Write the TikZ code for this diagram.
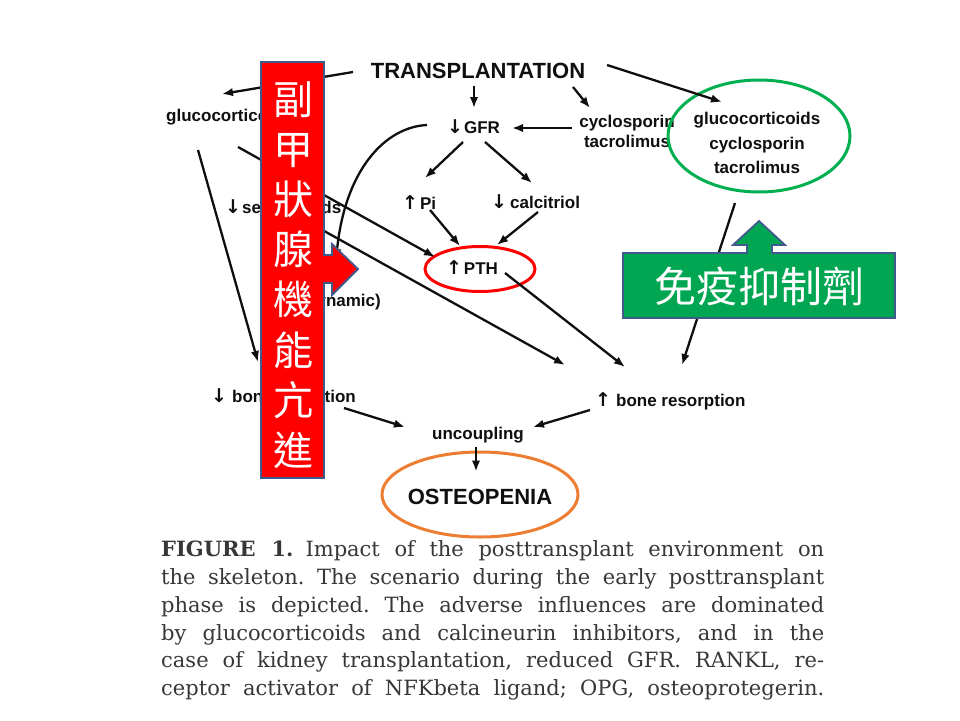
\documentclass[tikz,border=0pt]{standalone}
\usepackage{fontspec}
\setmainfont{Liberation Sans}
\newfontfamily\cjk{Noto Sans CJK TC}
\newfontfamily\capfont{DejaVu Serif}
\newfontfamily\arrfont{DejaVu Sans}
\newcommand\myDown{{\arrfont\bfseries\fontsize{19}{20}\selectfont ↓}}
\newcommand\myUp{{\arrfont\bfseries\fontsize{19}{20}\selectfont ↑}}
\usetikzlibrary{shapes.geometric,arrows.meta}
\definecolor{pptred}{RGB}{255,0,0}
\definecolor{pptgreen}{RGB}{0,176,80}
\definecolor{boxgreen}{RGB}{0,166,81}
\definecolor{pptorange}{RGB}{237,125,49}
\definecolor{pptblue}{RGB}{65,90,140}
\definecolor{capgray}{RGB}{55,55,55}
\definecolor{ink}{RGB}{15,15,15}
\begin{document}
\begin{tikzpicture}[x=1pt,y=-1pt,
 lbl/.style={font=\fontsize{17}{20}\selectfont\bfseries, text=ink, inner sep=0pt},
 arr/.style={-{Latex[length=11pt,width=8.5pt]}, line width=2.3pt, draw=ink},
 capline/.style={font=\capfont\fontsize{21}{24}\selectfont\frenchspacing, text=capgray, inner sep=0pt, anchor=base west},
 ring/.style={ellipse, line width=3pt, inner sep=0pt},
 cjkw/.style={text=white, inner sep=0pt, align=center},
 callout/.style={line width=1.8pt, draw=pptblue},
]
\fill[white] (0,0) rectangle (960,720);
\useasboundingbox (0,0) rectangle (960,720);

% labels
\node[lbl, font=\fontsize{22}{24}\selectfont\bfseries] (trans) at (478,71) {TRANSPLANTATION};
\node[lbl, anchor=west] (gluL) at (166,117) {glucocorticoids};
\node[lbl, anchor=west] (gfr) at (447,127) {\myDown\kern1pt GFR};
\node[lbl, align=center] (cyc) at (627,131) {cyclosporin\\tacrolimus};
\node[lbl, align=center, font=\fontsize{17}{24.5}\selectfont\bfseries] (immtxt) at (757,143) {glucocorticoids\\cyclosporin\\tacrolimus};
\node[lbl, anchor=west] (pi) at (402,203) {\myUp\kern2pt Pi};
\node[lbl, anchor=west] (calc) at (491,202) {\myDown\kern3pt calcitriol};
\node[lbl, anchor=west] (sex) at (225,207) {\myDown\kern1pt sex steroids};
\node[lbl] (pth) at (472,268) {\myUp\kern2pt PTH};
\node[lbl, anchor=east] (ady) at (381,302) {(adynamic)};
\node[lbl, anchor=west] (bf) at (211,396) {\myDown\kern5pt bone formation};
\node[lbl, anchor=west] (br) at (595,401) {\myUp\kern5pt bone resorption};
\node[lbl] (unc) at (478,435) {uncoupling};
\node[lbl, font=\fontsize{22}{24}\selectfont\bfseries] (ost) at (480,497) {OSTEOPENIA};

% ellipses (annotation rings)
\node[ring, draw=pptred, minimum width=110pt, minimum height=45pt] (pthE) at (480,269) {};
\node[ring, draw=pptgreen, minimum width=182pt, minimum height=112pt] (immE) at (759,136) {};
\node[ring, draw=pptorange, minimum width=196pt, minimum height=85pt] (ostE) at (480,494.5) {};

% connectors
\draw[arr] ([shift={(-125,1)}]trans.center) -- ([shift={(56,-23)}]gluL.west);
\draw[arr] ([shift={(-4,15)}]trans.center) -- ([shift={(27,-19)}]gfr.west);
\draw[arr] ([shift={(95,16)}]trans.center) -- ([shift={(-37,-23)}]cyc.center);
\draw[arr] ([shift={(129,-6)}]trans.center) -- ([shift={(-37,-34)}]immE.center);
\draw[arr] ([shift={(-55,-3)}]cyc.center) -- ([shift={(65,1)}]gfr.west);
\draw[arr] ([shift={(16,15)}]gfr.west) -- ([shift={(23,-25)}]pi.west);
\draw[arr] ([shift={(38,15)}]gfr.west) -- ([shift={(41,-19)}]calc.west);
\draw[arr] ([shift={(28,7)}]pi.west) -- ([shift={(-20,-23)}]pthE.center);
\draw[arr] ([shift={(47,10)}]calc.west) -- ([shift={(17,-24)}]pthE.center);
\draw[arr] ([shift={(72,30)}]gluL.west) -- ([shift={(-45,-12)}]pthE.center);
\draw[arr] ([shift={(65,5)}]sex.west) -- ([shift={(-30,-36)}]br.west);
\draw[arr] ([shift={(32,33)}]gluL.west) -- ([shift={(47,-34)}]bf.west);
\draw[arr] ([shift={(-20,-2)}]gfr.west) .. controls (385,127) and (345,170) .. ([shift={(-45,-42)}]ady.east);
\draw[arr] ([shift={(25,4)}]pthE.center) -- ([shift={(30,-34)}]br.west);
\draw[arr] ([shift={(-24,67)}]immE.center) -- ([shift={(87,-36)}]br.west);
\draw[arr] ([shift={(133,12)}]bf.west) -- ([shift={(-73,-8)}]unc.center);
\draw[arr] ([shift={(-5,9)}]br.west) -- ([shift={(55,-8)}]unc.center);
\draw[arr] ([shift={(-2,12)}]unc.center) -- ([shift={(-4,-23)}]ostE.center);

% red callout with right arrow
\path[callout, fill=pptred] (261,62) -- (324,62) -- (324,255) -- (332,255) -- (332,244) -- (358,269) -- (332,295) -- (332,283) -- (324,283) -- (324,478) -- (261,478) -- cycle;
\node[cjkw, font=\cjk\fontsize{40}{50.2}\selectfont] (hpt) at (293,275) {副\\甲\\狀\\腺\\機\\能\\亢\\進};

% green callout with up arrow
\path[callout, fill=boxgreen] (623,253) -- (747,253) -- (747,245) -- (733,245) -- (759,221) -- (785,245) -- (772,245) -- (772,253) -- (895,253) -- (895,318) -- (623,318) -- cycle;
\node[cjkw, font=\cjk\fontsize{42}{50}\selectfont] (imtxt) at (759,286) {免疫抑制劑};

% caption
\node[capline] (c1) at (161,556) {\hbox to 663pt{{\bfseries FIGURE 1.}\hspace{12pt}Impact of the posttransplant environment on}};
\node[capline] (c2) at (161,584) {\hbox to 663pt{the skeleton. The scenario during the early posttransplant}};
\node[capline] (c3) at (161,612) {\hbox to 663pt{phase is depicted. The adverse influences are dominated}};
\node[capline] (c4) at (161,640) {\hbox to 663pt{by glucocorticoids and calcineurin inhibitors, and in the}};
\node[capline] (c5) at (161,667) {\hbox to 663pt{case of kidney transplantation, reduced GFR. RANKL, re-}};
\node[capline] (c6) at (161,695) {\hbox to 663pt{ceptor activator of NFKbeta ligand; OPG, osteoprotegerin.}};
\end{tikzpicture}
\end{document}
